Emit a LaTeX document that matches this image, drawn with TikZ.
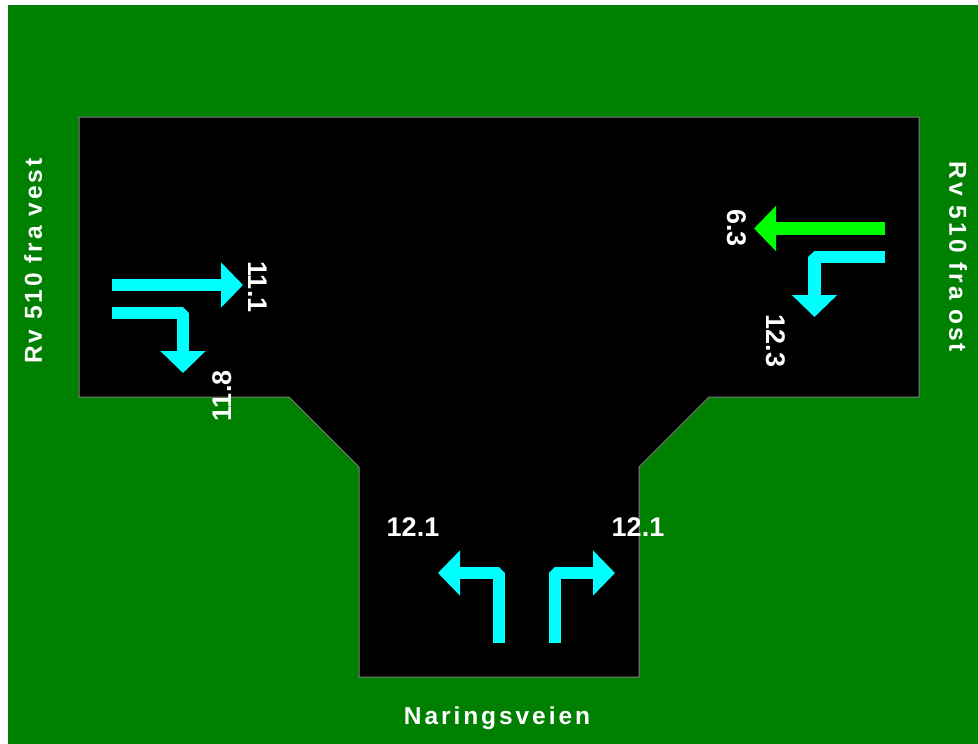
\documentclass[tikz,border=0pt]{standalone}
\usepackage{fontspec}
\setmainfont{Liberation Sans}
\newfontfamily\numfont{Liberation Sans Bold}
\newfontfamily\roadfont[LetterSpace=12]{Liberation Sans Bold}
\usetikzlibrary{arrows.meta}
\definecolor{grass}{RGB}{0,128,0}
\definecolor{lanecyan}{RGB}{0,255,255}
\definecolor{lanegreen}{RGB}{0,255,0}
\definecolor{edgegray}{RGB}{128,128,128}
\begin{document}
\begin{tikzpicture}[x=1pt,y=-1pt,
  lane/.style={line width=12.5pt,line join=bevel,-{Triangle[length=22pt,width=44pt]}},
  num/.style={text=white,inner sep=0pt,font=\numfont\fontsize{27}{27}\selectfont},
  road/.style={text=white,inner sep=0pt,font=\roadfont\fontsize{24.5}{24.5}\selectfont}]
\useasboundingbox (0,0) rectangle (978,744);
\fill[white] (0,0) rectangle (978,744);
\fill[grass] (8,5) rectangle (978,744);

% kryss
\filldraw[fill=black,draw=edgegray,line width=1pt]
  (79,117) -- (919,117) -- (919,397) -- (709,397) -- (639,467) -- (639,677)
  -- (359,677) -- (359,467) -- (289,397) -- (79,397) -- cycle;

% fra vest
\draw[lane,lanecyan] (112,285) -- (243,285);
\draw[lane,lanecyan] (112,313) -- (183,313) -- (183,373);
% fra ost
\draw[lane,lanegreen] (885,228.5) -- (754,228.5);
\draw[lane,lanecyan] (885,257) -- (814.5,257) -- (814.5,317);
% Naringsveien
\draw[lane,lanecyan] (499,643) -- (499,573) -- (438,573);
\draw[lane,lanecyan] (555,643) -- (555,573) -- (615,573);

\node[num,rotate=-90] (n111) at (258,287) {11.1};
\node[num,rotate=90] (n118) at (222,396) {11.8};
\node[num,rotate=-90] (n63) at (737,228) {6.3};
\node[num,rotate=-90] (n123) at (776,341) {12.3};
\node[num] (n121l) at (413,527) {12.1};
\node[num] (n121r) at (638,527) {12.1};

\node[road,rotate=90] (vest) at (33,261) {Rv 510 fra vest};
\node[road,rotate=-90] (ost) at (958,257) {Rv 510 fra ost};
\node[road] (nvei) at (497,718) {Naringsveien};
\end{tikzpicture}
\end{document}
